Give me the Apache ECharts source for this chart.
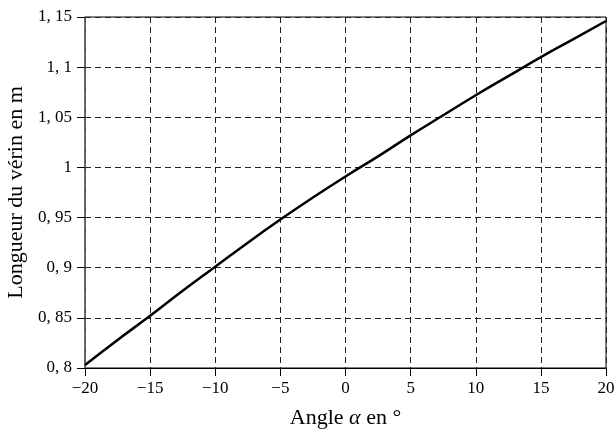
<!DOCTYPE html>
<html><head><meta charset="utf-8">
<script src="https://cdn.jsdelivr.net/npm/echarts@6/dist/echarts.min.js"></script>
<style>html,body{margin:0;padding:0;background:#fff}#c{width:616px;height:437px}</style>
</head><body><div id="c"></div>
<script>
const angles = [-20,-17.5,-15,-12.5,-10,-7.5,-5,-2.5,0,2.5,5,7.5,10,12.5,15,17.5,20];
const lengths = [0.803,0.828,0.852,0.877,0.901,0.925,0.948,0.970,0.991,1.011,1.032,1.052,1.072,1.091,1.110,1.128,1.146];
const xTicks = [-20,-15,-10,-5,0,5,10,15,20];
const yTicks = [0.8,0.85,0.9,0.95,1,1.05,1.1,1.15];
const FONT = 'Liberation Serif';
const chart = echarts.init(document.getElementById('c'));
chart.setOption({
  animation:false,
  grid:{left:85,right:10,top:17,bottom:69,show:true,borderColor:'#000',borderWidth:1,outerBoundsMode:'none',containLabel:false},
  xAxis:{type:'value',min:-20,max:20,interval:5,
    name:'{a|Angle }{b|α}{a| en °}',nameLocation:'middle',nameGap:39,
    nameTextStyle:{rich:{a:{fontFamily:FONT,fontSize:22,color:'#000'},b:{fontFamily:FONT,fontSize:22,fontStyle:'italic',color:'#000'}}},
    axisLine:{show:true,onZero:false,lineStyle:{color:'#000',width:1}},
    axisTick:{show:true,length:8,lineStyle:{color:'#000'}},
    axisLabel:{margin:12,fontFamily:FONT,fontSize:17,color:'#000',formatter:v=>String(v).replace('-','\u2212')},
    splitLine:{show:true,lineStyle:{color:'#222',type:[6,4],width:1}}
  },
  yAxis:{type:'value',min:0.8,max:1.15,interval:0.05,
    name:'Longueur du vérin en m',nameLocation:'middle',nameGap:57,
    nameTextStyle:{fontFamily:FONT,fontSize:22,color:'#000'},
    axisLine:{show:true,onZero:false,lineStyle:{color:'#666',width:1.5}},
    axisTick:{show:true,length:8,lineStyle:{color:'#000'}},
    axisLabel:{margin:13,fontFamily:FONT,fontSize:17,color:'#000',formatter:v=>String(Math.round(v*100)/100).replace('.',', ')},
    splitLine:{show:true,lineStyle:{color:'#222',type:[6,4],width:1}}
  },
  series:[{type:'line',data:angles.map((a,i)=>[a,lengths[i]]),showSymbol:false,smooth:true,
    lineStyle:{color:'#000',width:2.5}}]
});
</script></body></html>
